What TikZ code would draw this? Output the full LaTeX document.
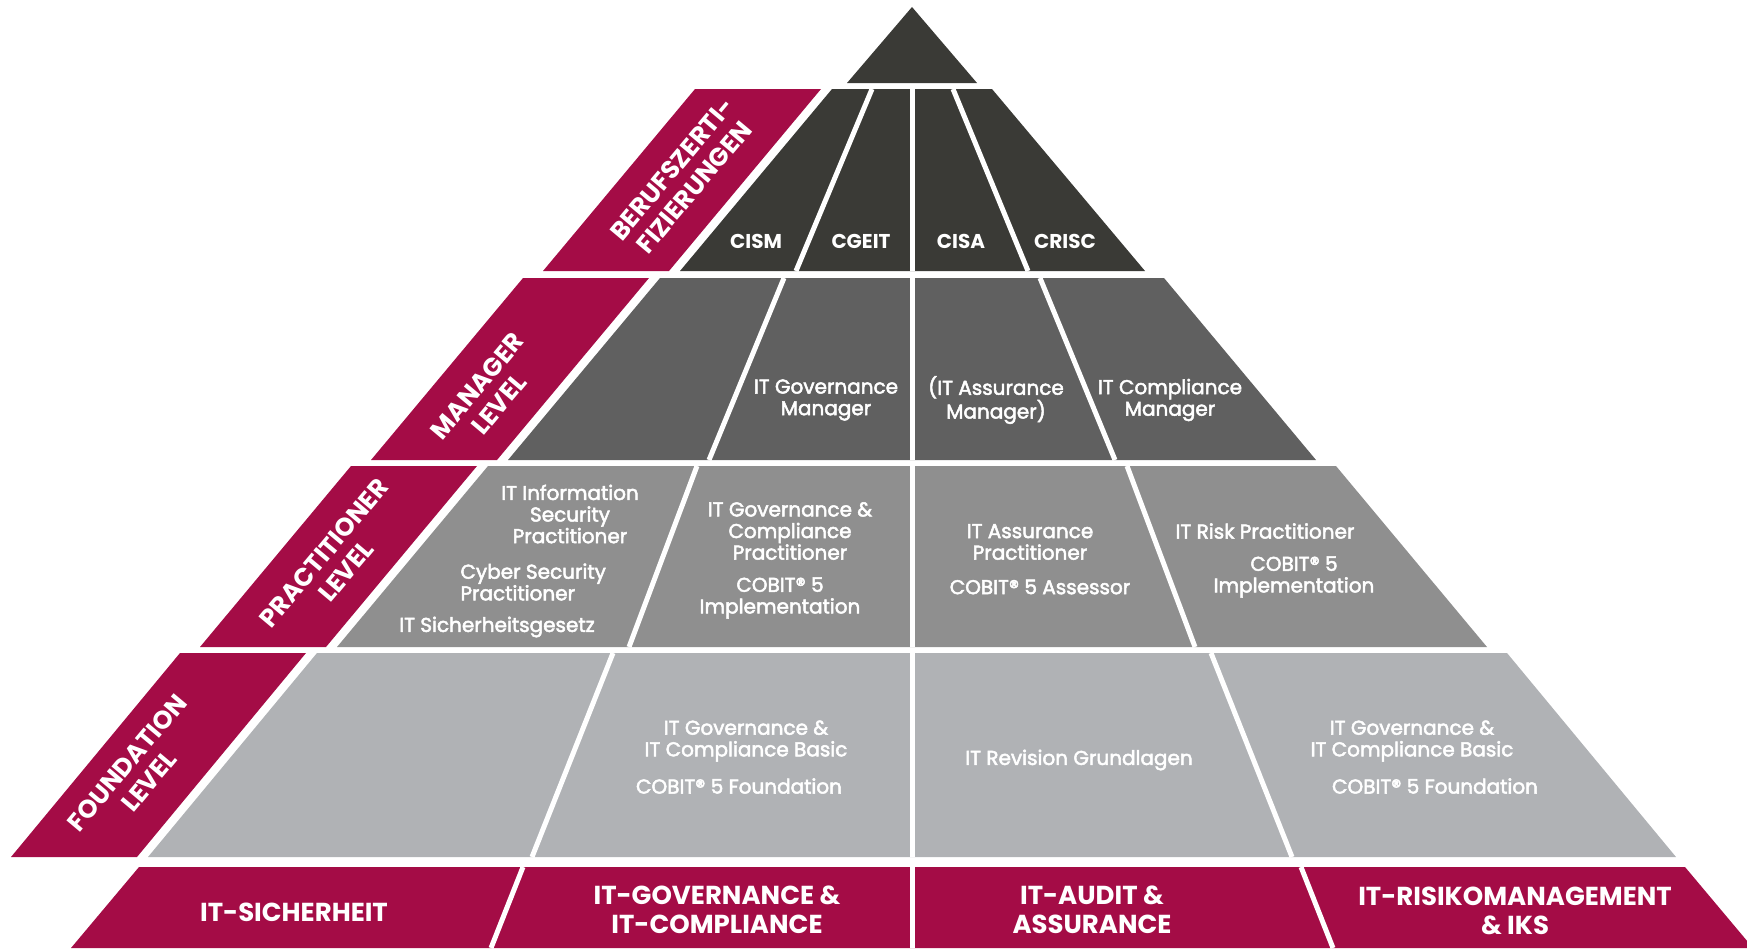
\documentclass[tikz,border=0pt]{standalone}
\usepackage{fontspec}
\setmainfont{Poppins}
\newfontfamily\cellfont{Poppins}[FakeBold=2.5]
\usepackage{tikz}
\definecolor{pyrDark}{RGB}{58,58,54}
\definecolor{pyrMid}{RGB}{96,96,96}
\definecolor{pyrLight}{RGB}{143,143,143}
\definecolor{pyrBase}{RGB}{176,178,181}
\definecolor{pyrRed}{RGB}{164,12,70}
\tikzset{every picture/.style={line width=0.75pt}}
\tikzset{
  celltext/.style={text=white, inner sep=0pt, align=center, font=\cellfont\fontsize{15}{16.2}\selectfont},
  toptext/.style={text=white, inner sep=0pt, font=\bfseries\fontsize{15}{16}\selectfont},
  lvltext/.style={text=white, inner sep=0pt, align=center, rotate=50, font=\bfseries\fontsize{19}{21.5}\selectfont},
  bandtext/.style={text=white, inner sep=0pt, align=center, font=\bfseries\fontsize{19.5}{22}\selectfont},
  gapline/.style={draw=white, line width=3.75pt}
}

\begin{document}
\begin{tikzpicture}[x=0.75pt,y=0.75pt,yscale=-1]
		\useasboundingbox (0,0) rectangle (1747,949);
		
		%Shape: Triangle [id:top]
		\fill [pyrDark] (912,7) -- (977,83) -- (847,83) -- cycle ;
		
		%Shape: Trapezoid [id:row1]
		\fill [pyrDark] (832,89) -- (992,89) -- (1145,271) -- (680,271) -- cycle ;
		\draw [gapline] (872,89) -- (796,271) ;
		\draw [gapline] (912,89) -- (912,271) ;
		\draw [gapline] (953,89) -- (1028,271) ;
		%Shape: Parallelogram [id:lbl1]
		\fill [pyrRed] (695,89) -- (821,89) -- (669,271) -- (543,271) -- cycle ;
		
		%Shape: Trapezoid [id:row2]
		\fill [pyrMid] (660,278) -- (1164,278) -- (1316,460) -- (508,460) -- cycle ;
		\draw [gapline] (784,278) -- (709,460) ;
		\draw [gapline] (912,278) -- (912,460) ;
		\draw [gapline] (1040,278) -- (1115,460) ;
		%Shape: Parallelogram [id:lbl2]
		\fill [pyrRed] (523,278) -- (649,278) -- (497,460) -- (371,460) -- cycle ;
		
		%Shape: Trapezoid [id:row3]
		\fill [pyrLight] (488,466) -- (1336,466) -- (1487,647) -- (337,647) -- cycle ;
		\draw [gapline] (697,466) -- (629,647) ;
		\draw [gapline] (912,466) -- (912,647) ;
		\draw [gapline] (1127,466) -- (1195,647) ;
		%Shape: Parallelogram [id:lbl3]
		\fill [pyrRed] (351,466) -- (477,466) -- (326,647) -- (200,647) -- cycle ;
		
		%Shape: Trapezoid [id:row4]
		\fill [pyrBase] (317,653) -- (1507,653) -- (1676,857) -- (148,857) -- cycle ;
		\draw [gapline] (613,653) -- (532,857) ;
		\draw [gapline] (912,653) -- (912,857) ;
		\draw [gapline] (1211,653) -- (1292,857) ;
		%Shape: Parallelogram [id:lbl4]
		\fill [pyrRed] (180,653) -- (306,653) -- (137,857) -- (11,857) -- cycle ;
		
		%Shape: Trapezoid [id:band]
		\fill [pyrRed] (139,867) -- (1685,867) -- (1753,948) -- (71,948) -- cycle ;
		\draw [gapline] (523,867) -- (491,948) ;
		\draw [gapline] (912,867) -- (912,948) ;
		\draw [gapline] (1301,867) -- (1333,948) ;
		
		% Text Node
		\node [lvltext] (berufs) at (683,178) {BERUFSZERTI-\\FIZIERUNGEN};
		% Text Node
		\node [lvltext] (manager) at (488,395) {MANAGER\\LEVEL};
		% Text Node
		\node [lvltext] (practitioner) at (335,562) {PRACTITIONER\\LEVEL};
		% Text Node
		\node [lvltext] (foundation) at (138,772) {FOUNDATION\\LEVEL};
		
		% Text Node
		\node [toptext] (cism) at (756,241) {CISM};
		% Text Node
		\node [toptext] (cgeit) at (861,241) {CGEIT};
		% Text Node
		\node [toptext] (cisa) at (961,241) {CISA};
		% Text Node
		\node [toptext] (crisc) at (1065,241) {CRISC};
		
		% Text Node
		\node [celltext] (govmgr) at (826,400) {IT Governance\\Manager};
		% Text Node
		\node [celltext] (assmgr) at (996,400) {(IT Assurance\\Manager)};
		% Text Node
		\node [celltext] (compmgr) at (1170,400) {IT Compliance\\Manager};
		
		% Text Node
		\node [celltext] (infosec) at (570,514) {IT Information\\Security\\Practitioner};
		% Text Node
		\node [celltext, align=left, anchor=west] (cyber) at (460,582) {Cyber Security\\Practitioner};
		% Text Node
		\node [celltext] (sigesetz) at (497,627) {IT Sicherheitsgesetz};
		% Text Node
		\node [celltext] (govprac) at (790,531) {IT Governance \&\\Compliance\\Practitioner};
		% Text Node
		\node [celltext] (impl1) at (780,598) {COBIT® 5\\Implementation};
		% Text Node
		\node [celltext] (assprac) at (1030,542) {IT Assurance\\Practitioner};
		% Text Node
		\node [celltext] (assessor) at (1040,587) {COBIT® 5 Assessor};
		% Text Node
		\node [celltext] (riskprac) at (1265,531) {IT Risk Practitioner};
		% Text Node
		\node [celltext] (impl2) at (1294,577) {COBIT® 5\\Implementation};
		
		% Text Node
		\node [celltext] (govbasic1) at (746,741) {IT Governance \&\\IT Compliance Basic};
		% Text Node
		\node [celltext] (found1) at (739,786) {COBIT® 5 Foundation};
		% Text Node
		\node [celltext] (revision) at (1079,760) {IT Revision Grundlagen};
		% Text Node
		\node [celltext] (govbasic2) at (1412,741) {IT Governance \&\\IT Compliance Basic};
		% Text Node
		\node [celltext] (found2) at (1435,786) {COBIT® 5 Foundation};
		
		% Text Node
		\node [bandtext] (itsich) at (294,912) {IT-SICHERHEIT};
		% Text Node
		\node [bandtext] (itgov) at (717,910) {IT-GOVERNANCE \&\\IT-COMPLIANCE};
		% Text Node
		\node [bandtext] (itaudit) at (1092,910) {IT-AUDIT \&\\ASSURANCE};
		% Text Node
		\node [bandtext] (itrisk) at (1515,911) {IT-RISIKOMANAGEMENT\\\& IKS};
\end{tikzpicture}
\end{document}
